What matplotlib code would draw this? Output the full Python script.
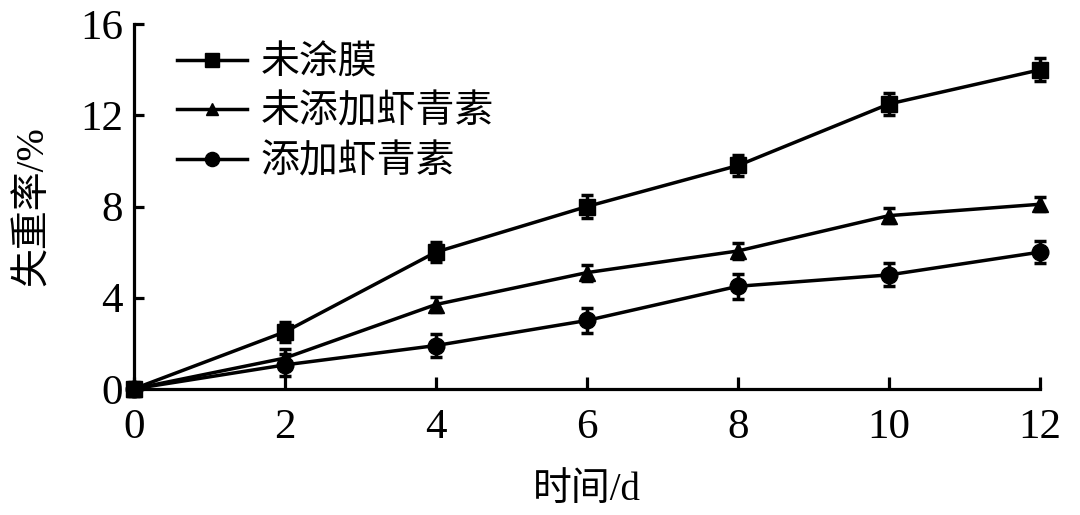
import matplotlib
matplotlib.use("Agg")
import matplotlib.pyplot as plt

plt.rcParams['font.family'] = ['Liberation Serif', 'Noto Sans CJK SC']
plt.rcParams['mathtext.fontset'] = 'stix'

days = [0, 2, 4, 6, 8, 10, 12]
labels = ['未涂膜', '未添加虾青素', '添加虾青素']
uncoated = [0, 2.5, 6.0, 8.0, 9.8, 12.5, 14.0]
uncoated_err = [0.3, 0.45, 0.45, 0.5, 0.45, 0.5, 0.5]
no_astax = [0, 1.35, 3.7, 5.1, 6.05, 7.6, 8.1]
no_astax_err = [0.2, 0.4, 0.35, 0.35, 0.35, 0.33, 0.3]
astax = [0, 1.05, 1.9, 3.0, 4.5, 5.0, 6.0]
astax_err = [0.2, 0.5, 0.5, 0.55, 0.55, 0.5, 0.5]
yticks = [0, 4, 8, 12, 16]
xticks = [0, 2, 4, 6, 8, 10, 12]

fig = plt.figure(figsize=(10.8, 5.15), dpi=100)
ax = fig.add_axes([0.124, 0.245, 0.839, 0.708])

series = [(uncoated, uncoated_err, 's', 12),
          (no_astax, no_astax_err, '^', 11),
          (astax, astax_err, 'o', 12)]
handles = []
for (vals, err, mk, ms), lab in zip(series, labels):
    c = ax.errorbar(days, vals, yerr=err, color='black', lw=2.5, marker=mk, ms=ms,
                    capsize=4.5, capthick=2.5, elinewidth=2.5, label=lab, clip_on=False,
                    zorder=3)
    handles.append(c[0])

ax.set_xlim(0, 12)
ax.set_ylim(0, 16)
ax.set_xticks(xticks)
ax.set_yticks(yticks)
for s in ['top', 'right']:
    ax.spines[s].set_visible(False)
for s in ['left', 'bottom']:
    ax.spines[s].set_linewidth(2.3)
ax.tick_params(axis='both', direction='in', width=2.3, labelsize=31, colors='black')
ax.tick_params(axis='x', length=9, pad=14)
ax.tick_params(axis='y', length=7, pad=8)

ax.set_xlabel('时间/d', fontsize=28, labelpad=18)
ax.set_ylabel('失重率/%', fontsize=28, labelpad=20)

leg = ax.legend(handles, labels, loc='upper left', bbox_to_anchor=(0.03, 0.985), frameon=False,
                fontsize=28, handlelength=1.8, handletextpad=0.35, labelspacing=0.32,
                markerscale=0.85, borderaxespad=0)

fig.savefig('out.png', dpi=100)
